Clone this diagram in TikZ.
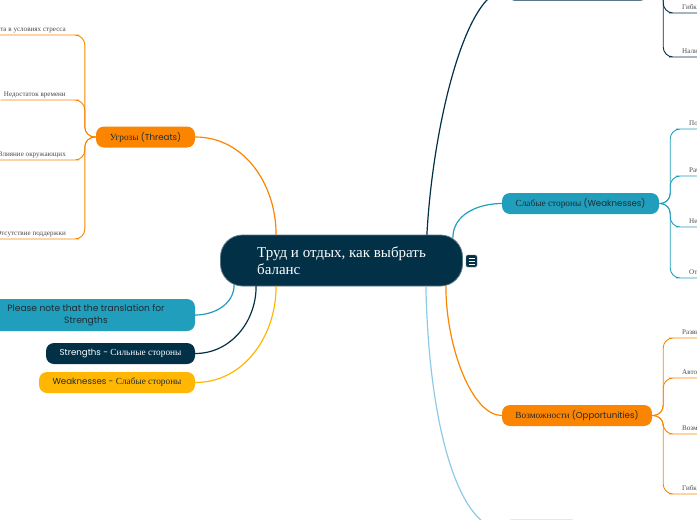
\documentclass[tikz,border=0pt]{standalone}
\usepackage{fontspec}
\setmainfont{Liberation Serif}
\newfontfamily\quick[Scale=0.93]{Poppins}
\usepackage{tikz}
\definecolor{mapNavy}{HTML}{023047}
\definecolor{mapTeal}{HTML}{219EBC}
\definecolor{mapAmber}{HTML}{FFB703}
\definecolor{mapOrange}{HTML}{FB8500}
\definecolor{mapSky}{HTML}{8ECAE6}
\definecolor{mapInk}{HTML}{1E2B33}
\definecolor{mapLeafInk}{HTML}{4A4A4A}
\tikzset{
  link/.style={line width=1.2pt, line cap=round},
  leaf link/.style={line width=0.9pt, rounded corners=10pt},
  title box/.style={fill=mapNavy, draw=mapNavy!65!white, line width=0.8pt,
    rounded corners=22pt, text=white, align=left, minimum width=242pt,
    minimum height=51pt, inner sep=0pt, font=\fontsize{15}{17}\selectfont},
  branch box/.style={rounded corners=8pt, minimum height=21pt, inner sep=0pt,
    align=center, text=mapInk, font=\fontsize{9.3}{11}\selectfont},
  leaf/.style={inner xsep=3pt, inner ysep=2pt, text depth=1.5pt,
    text=mapLeafInk, font=\fontsize{7.1}{9}\selectfont},
  memo icon/.style={fill=mapNavy, draw=mapNavy!60!white, rounded corners=1.5pt,
    minimum width=11pt, minimum height=12pt, inner sep=0pt}
}
\begin{document}
\begin{tikzpicture}[x=1pt, y=-1pt]
  \useasboundingbox (0,0) rectangle (697,520);
  \clip (0,0) rectangle (697,520);
  % central topic
  \node[title box] (core) at (341.5,260.5) {Труд и отдых, как выбрать\\баланс};
  \node[memo icon] (memo) at (471.5,261) {};
  \foreach \dy in {-3,0,3}
    \draw[white, line width=0.8pt] ([xshift=-3pt,yshift=\dy pt]memo.center) -- ([xshift=3pt,yshift=\dy pt]memo.center);
  % main topics
  \node[branch box, fill=mapOrange, minimum width=99pt] (threats) at (145.5,137) {Угрозы {\quick(Threats)}};
  \node[branch box, fill=mapTeal, minimum width=218pt, minimum height=32pt,
    font=\quick\fontsize{9.8}{12.5}\selectfont] (note) at (86,315) {Please note that the translation for\\Strengths};
  \node[branch box, fill=mapNavy, text=white, minimum width=149pt] (strengths) at (120.5,353.5) {{\quick Strengths -} Сильные стороны};
  \node[branch box, fill=mapAmber, minimum width=156pt] (weakcard) at (117,382.5) {{\quick Weaknesses -} Слабые стороны};
  \node[branch box, fill=mapNavy, minimum width=143pt] (strengthtop) at (577.5,-10) {};
  \node[branch box, fill=mapTeal, minimum width=157pt] (weak) at (580.5,203.5) {Слабые стороны {\quick(Weaknesses)}};
  \node[branch box, fill=mapOrange, minimum width=150pt] (opps) at (577,415.5) {Возможности {\quick(Opportunities)}};
  \node[branch box, fill=mapSky, minimum width=75pt] (extra) at (541.5,530) {};
  % links from the central topic
  \draw[link, mapOrange] ([xshift=56pt]core.north west) to[out=90, in=0] (threats.east);
  \draw[link, mapTeal] ([xshift=14pt, yshift=1.5pt]core.south west) to[out=-90, in=0] (note.east);
  \draw[link, mapNavy] ([xshift=36pt]core.south west) to[out=-90, in=0] (strengths.east);
  \draw[link, mapAmber] ([xshift=56pt]core.south west) to[out=-90, in=0] (weakcard.east);
  \draw[link, mapNavy] ([xshift=-36pt]core.north east) .. controls +(6,-110) and +(-40,0) .. (strengthtop.west);
  \draw[link, mapTeal] ([xshift=-10pt, yshift=-3pt]core.north east) to[out=90, in=180] (weak.west);
  \draw[link, mapOrange] ([xshift=-17pt]core.south east) .. controls +(0,60) and +(-30,0) .. (opps.west);
  \draw[link, mapSky] ([xshift=-37pt]core.south east) .. controls +(3,144) and +(-44,0) .. (extra.west);
  % threats
  \node[leaf, anchor=south east] (thr1) at (69,35) {Работа в условиях стресса};
  \node[leaf, anchor=south east] (thr2) at (69,100) {Недостаток времени};
  \node[leaf, anchor=south east] (thr3) at (69,160) {Влияние окружающих};
  \node[leaf, anchor=south east] (thr4) at (69,239) {Отсутствие поддержки};
  \foreach \n in {thr1,thr2,thr3,thr4}
    \draw[leaf link, mapOrange] (threats.west) -- ++(-11,0) |- (\n.south east) -- (\n.south west);
  % strengths
  \node[leaf, anchor=south west] (str1) at (679,13) {Гибкий график работы};
  \node[leaf, anchor=south west] (str2) at (679,57) {Наличие хобби};
  \foreach \n in {str1,str2}
    \draw[leaf link, mapNavy] (strengthtop.east) -- ++(14,0) |- (\n.south west) -- (\n.south east);
  % weaknesses
  \node[leaf, anchor=south west] (wk1) at (686,129) {Постоянная усталость};
  \node[leaf, anchor=south west] (wk2) at (686,176) {Работа допоздна};
  \node[leaf, anchor=south west] (wk3) at (686,227) {Неумение отказывать};
  \node[leaf, anchor=south west] (wk4) at (686,278) {Отсутствие отпуска};
  \foreach \n in {wk1,wk2,wk3,wk4}
    \draw[leaf link, mapTeal] (weak.east) -- ++(11,0) |- (\n.south west) -- (\n.south east);
  % opportunities
  \node[leaf, anchor=south west] (op1) at (679,338) {Развитие тайм-менеджмента};
  \node[leaf, anchor=south west] (op2) at (679,378) {Автоматизация рутины};
  \node[leaf, anchor=south west] (op3) at (679,434) {Возможность удалённой работы};
  \node[leaf, anchor=south west] (op4) at (679,494) {Гибкий рабочий график};
  \foreach \n in {op1,op2,op3,op4}
    \draw[leaf link, mapOrange] (opps.east) -- ++(11,0) |- (\n.south west) -- (\n.south east);
\end{tikzpicture}
\end{document}
